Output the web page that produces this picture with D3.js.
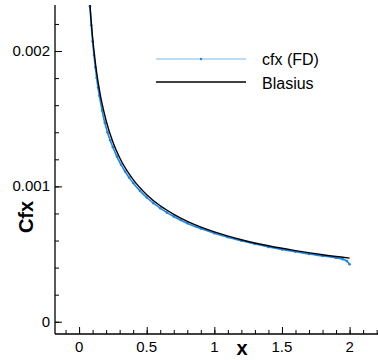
<!DOCTYPE html>
<html>
<head>
<meta charset="utf-8">
<script src="https://cdn.jsdelivr.net/npm/d3@7"></script>
<style>
  body { margin: 0; background: white; }
  text { font-family: "Liberation Sans", Arial, sans-serif; }
</style>
</head>
<body>
<div id="vis"></div>
<script>
// data
var blasiusX = [0.07, 0.08, 0.1, 0.12, 0.15, 0.2, 0.25, 0.3, 0.4, 0.5, 0.6, 0.7, 0.8, 1.0, 1.2, 1.4, 1.6, 1.8, 2.0];
var blasiusCf = [0.00251, 0.002348, 0.0021, 0.001917, 0.001714, 0.001485, 0.001328, 0.001212, 0.00105, 0.000939,
                 0.000857, 0.000794, 0.000742, 0.000664, 0.000606, 0.000561, 0.000525, 0.000495, 0.00047];

var fdX = [0.07, 0.08, 0.09, 0.1, 0.11, 0.12, 0.13, 0.14, 0.15, 0.17, 0.19, 0.21, 0.23, 0.25, 0.28, 0.31, 0.34, 0.37,
           0.4, 0.45, 0.5, 0.55, 0.6, 0.65, 0.7, 0.75, 0.8, 0.9, 1.0, 1.1, 1.2, 1.3, 1.4, 1.5, 1.6, 1.7, 1.8, 1.9,
           1.95, 1.98, 2.0];
var fdCf = [0.00249, 0.00233, 0.00219, 0.00207, 0.00197, 0.00188, 0.0018, 0.00173, 0.00167, 0.00156, 0.00147,
            0.0014, 0.00134, 0.00129, 0.00122, 0.00116, 0.00111, 0.001065, 0.001025, 0.000967, 0.000918, 0.000876,
            0.000839, 0.000806, 0.000777, 0.000752, 0.000728, 0.000688, 0.000654, 0.000624, 0.000598, 0.000574,
            0.000553, 0.000534, 0.000517, 0.0005, 0.000486, 0.000472, 0.000462, 0.000448, 0.000425];

var xTicks = [0, 0.5, 1, 1.5, 2];
var xTickLabels = ['0', '0.5', '1', '1.5', '2'];
var yTicks = [0, 0.001, 0.002];
var yTickLabels = ['0', '0.001', '0.002'];
var legendNames = ['cfx (FD)', 'Blasius'];

// plot frame (not named "top": that clashes with window.top)
var width = 378, height = 360;
var pLeft = 55, pTop = 5, pBottom = 334, pRight = 378;

var svg = d3.select('#vis')
  .append('svg')
  .attr('width', width)
  .attr('height', height)
  .style('background-color', 'white');

var x = d3.scaleLinear().domain([-0.178, 2.21]).range([pLeft, pRight]);
var y = d3.scaleLinear().domain([-0.0000905, 0.00234]).range([pBottom, pTop]);

svg.append('clipPath').attr('id', 'clip')
  .append('rect')
  .attr('x', pLeft).attr('y', pTop)
  .attr('width', pRight - pLeft).attr('height', pBottom - pTop);

var blue = '#1f86e8';

// axes: ticks point inward
svg.append('g')
  .attr('transform', 'translate(0,' + pBottom + ')')
  .call(d3.axisTop(x).tickValues(d3.range(-0.1, 2.21, 0.1)).tickSize(4).tickFormat(''))
  .select('.domain').remove();
svg.append('g')
  .attr('transform', 'translate(0,' + pBottom + ')')
  .call(d3.axisTop(x).tickValues(xTicks).tickSize(7).tickFormat(''))
  .select('.domain').remove();
svg.append('line')
  .attr('x1', pLeft).attr('x2', pRight)
  .attr('y1', pBottom).attr('y2', pBottom)
  .attr('stroke', 'black').attr('stroke-width', 1.3);

svg.append('g')
  .attr('transform', 'translate(' + pLeft + ',0)')
  .call(d3.axisRight(y).tickValues(d3.range(0, 0.00235, 0.0002)).tickSize(4).tickFormat(''))
  .select('.domain').remove();
svg.append('g')
  .attr('transform', 'translate(' + pLeft + ',0)')
  .call(d3.axisRight(y).tickValues(yTicks).tickSize(7).tickFormat(''))
  .select('.domain').remove();
svg.append('line')
  .attr('x1', pLeft).attr('x2', pLeft)
  .attr('y1', pTop).attr('y2', pBottom)
  .attr('stroke', 'black').attr('stroke-width', 1.3);

// tick labels
svg.selectAll('.xlab')
  .data(xTicks)
  .enter().append('text')
  .attr('x', function(d){ return x(d); })
  .attr('y', 352)
  .attr('text-anchor', 'middle')
  .style('font-size', '15px')
  .text(function(d, i){ return xTickLabels[i]; });

svg.selectAll('.ylab')
  .data(yTicks)
  .enter().append('text')
  .attr('x', 50)
  .attr('y', function(d){ return y(d) + 5; })
  .attr('text-anchor', 'end')
  .style('font-size', '15px')
  .text(function(d, i){ return yTickLabels[i]; });

// axis titles
svg.append('text')
  .attr('x', 242).attr('y', 355)
  .attr('text-anchor', 'middle')
  .style('font-size', '20px').style('font-weight', 'bold')
  .text('x');

svg.append('text')
  .attr('transform', 'translate(33,217) rotate(-90)')
  .attr('text-anchor', 'middle')
  .style('font-size', '20px').style('font-weight', 'bold')
  .text('Cfx');

// curves
var plot = svg.append('g').attr('clip-path', 'url(#clip)');
var line = d3.line()
  .x(function(d){ return x(d[0]); })
  .y(function(d){ return y(d[1]); })
  .curve(d3.curveMonotoneX);

var fd = d3.zip(fdX, fdCf);
plot.append('path')
  .datum(fd)
  .attr('d', line)
  .attr('fill', 'none')
  .attr('stroke', blue)
  .attr('stroke-width', 1.6);
plot.selectAll('.dot')
  .data(fd)
  .enter().append('circle')
  .attr('cx', function(d){ return x(d[0]); })
  .attr('cy', function(d){ return y(d[1]); })
  .attr('r', 1.3)
  .attr('fill', blue);

plot.append('path')
  .datum(d3.zip(blasiusX, blasiusCf))
  .attr('d', line)
  .attr('fill', 'none')
  .attr('stroke', 'black')
  .attr('stroke-width', 1.4);

// legend
var legend = svg.append('g');
legend.append('line')
  .attr('x1', 156).attr('x2', 246).attr('y1', 59).attr('y2', 59)
  .attr('stroke', '#7fb8e6').attr('stroke-width', 1);
legend.append('circle')
  .attr('cx', 201).attr('cy', 59).attr('r', 1.2).attr('fill', blue);
legend.append('line')
  .attr('x1', 156).attr('x2', 246).attr('y1', 82).attr('y2', 82)
  .attr('stroke', 'black').attr('stroke-width', 1.4);
legend.selectAll('.ltext')
  .data(legendNames)
  .enter().append('text')
  .attr('x', 262)
  .attr('y', function(d, i){ return 65 + i * 24; })
  .style('font-size', '16px')
  .text(function(d){ return d; });
</script>
</body>
</html>
